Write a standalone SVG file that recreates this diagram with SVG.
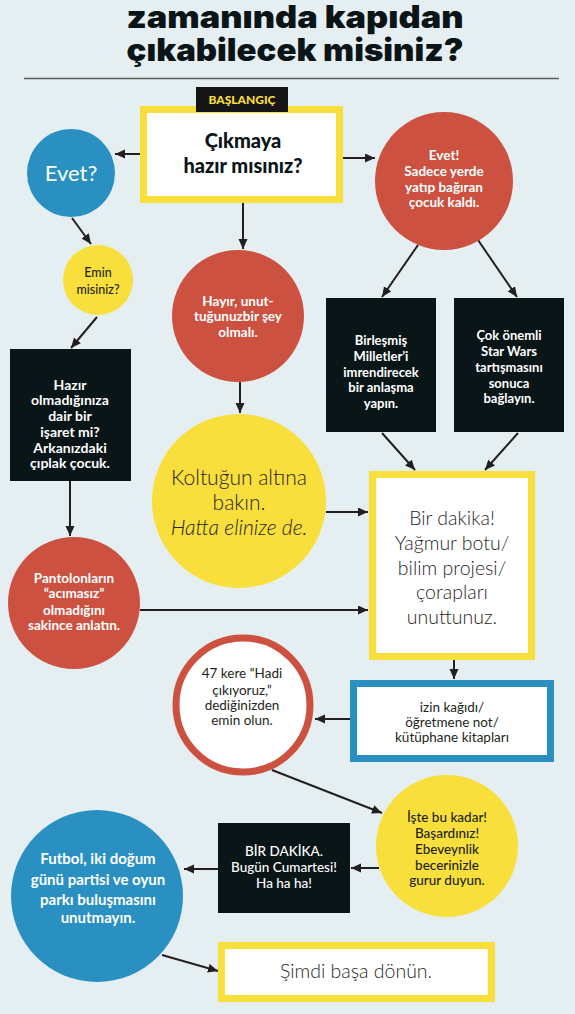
<svg xmlns="http://www.w3.org/2000/svg" width="575" height="1014" viewBox="0 0 575 1014">
<defs>
<marker id="ah" markerUnits="userSpaceOnUse" markerWidth="11" markerHeight="10" refX="10" refY="4.5" orient="auto"><path d="M0,0 L10,4.5 L0,9 z" fill="#231f20"/></marker>
<style>
.t{font-family:Lato,"Open Sans","DejaVu Sans",sans-serif;text-anchor:middle}
.title{font-family:Inter,Lato,"Open Sans",sans-serif;font-weight:900;font-size:31px;fill:#0b1417;text-anchor:middle}
.w{fill:#ffffff;font-weight:700}
.d{fill:#231f20}
.lt{fill:#2a2627;font-weight:300}
.red{fill:#cc5140}
.blue{fill:#2a90c1}
.yel{fill:#f8df3b}
.blk{fill:#0a1518}
.ybox{fill:#ffffff;stroke:#f8df3b;stroke-width:7}
.bbox{fill:#ffffff;stroke:#2a90c1;stroke-width:7}
#connectors line{stroke:#231f20;stroke-width:2;marker-end:url(#ah)}
</style>
</defs>
<rect width="575" height="1014" fill="#e5eff1"/>
<g id="title">
<text class="title" x="295" y="28" textLength="337" lengthAdjust="spacingAndGlyphs">zamanında kapıdan</text>
<text class="title" x="295" y="61" textLength="337" lengthAdjust="spacingAndGlyphs">çıkabilecek misiniz?</text>
<line x1="24" y1="78.5" x2="559" y2="78.5" stroke="#5a5d5e" stroke-width="1.5"/>
</g>
<g id="connectors">
<line x1="140" y1="154" x2="115" y2="154"/>
<line x1="343" y1="158" x2="375" y2="158"/>
<line x1="243" y1="203" x2="243" y2="249"/>
<line x1="72" y1="218" x2="91" y2="244"/>
<line x1="97" y1="317" x2="71" y2="348"/>
<line x1="418" y1="245" x2="382" y2="297"/>
<line x1="478" y1="240" x2="517" y2="297"/>
<line x1="240" y1="382" x2="240" y2="413"/>
<line x1="70" y1="481" x2="70" y2="536"/>
<line x1="382" y1="433" x2="415" y2="470"/>
<line x1="518" y1="433" x2="485" y2="470"/>
<line x1="326" y1="512" x2="368" y2="512"/>
<line x1="140" y1="610" x2="368" y2="610"/>
<line x1="454" y1="660" x2="454" y2="679"/>
<line x1="350" y1="719" x2="315" y2="719"/>
<line x1="272" y1="770" x2="382" y2="813"/>
<line x1="379" y1="868" x2="351" y2="868"/>
<line x1="218" y1="869" x2="184" y2="869"/>
<line x1="162" y1="955" x2="218" y2="971"/>
</g>
<g id="start">
<rect class="ybox" x="143.5" y="109.5" width="196" height="90"/>
<text class="t" x="243" y="148" font-size="20" font-weight="900" fill="#0b1417">Çıkmaya</text>
<text class="t" x="243" y="173" font-size="20" font-weight="900" fill="#0b1417">hazır mısınız?</text>
</g>
<g id="start-label">
<rect x="196" y="87" width="92" height="25" fill="#151515"/>
<text class="t" x="242" y="104" font-size="12" font-weight="900" fill="#f8df3b">BAŞLANGIÇ</text>
</g>
<g id="evet">
<circle class="blue" cx="71" cy="173" r="44"/>
<text class="t" x="71" y="181" font-size="22" fill="#ffffff">Evet?</text>
</g>
<g id="emin">
<circle class="yel" cx="98" cy="280" r="35"/>
<text class="t d" x="98" y="277" font-size="12.5" font-weight="500">Emin</text>
<text class="t d" x="98" y="294" font-size="12.5" font-weight="500">misiniz?</text>
</g>
<g id="evet-sadece">
<circle class="red" cx="444" cy="181" r="69"/>
<text class="t w" x="444" y="160" font-size="13.5">Evet!</text>
<text class="t w" x="444" y="176" font-size="13.5">Sadece yerde</text>
<text class="t w" x="444" y="192" font-size="13.5">yatıp bağıran</text>
<text class="t w" x="444" y="207" font-size="13.5">çocuk kaldı.</text>
</g>
<g id="hayir">
<circle class="red" cx="238" cy="316" r="66"/>
<text class="t w" x="238" y="306" font-size="13.5">Hayır, unut-</text>
<text class="t w" x="238" y="321" font-size="13.5">tuğunuzbir şey</text>
<text class="t w" x="238" y="337" font-size="13.5">olmalı.</text>
</g>
<g id="birlesmis">
<rect class="blk" x="326" y="298" width="110" height="134"/>
<text class="t w" x="381" y="345" font-size="13">Birleşmiş</text>
<text class="t w" x="381" y="361" font-size="13">Milletler’i</text>
<text class="t w" x="381" y="377" font-size="13">imrendirecek</text>
<text class="t w" x="381" y="392" font-size="13">bir anlaşma</text>
<text class="t w" x="381" y="408" font-size="13">yapın.</text>
</g>
<g id="starwars">
<rect class="blk" x="454" y="298" width="110" height="134"/>
<text class="t w" x="509" y="340" font-size="13">Çok önemli</text>
<text class="t w" x="509" y="356" font-size="13">Star Wars</text>
<text class="t w" x="509" y="372" font-size="13">tartışmasını</text>
<text class="t w" x="509" y="388" font-size="13">sonuca</text>
<text class="t w" x="509" y="403" font-size="13">bağlayın.</text>
</g>
<g id="hazir">
<rect class="blk" x="10" y="349" width="121" height="132"/>
<text class="t w" x="70" y="390" font-size="14">Hazır</text>
<text class="t w" x="70" y="405" font-size="14">olmadığınıza</text>
<text class="t w" x="70" y="421" font-size="14">dair bir</text>
<text class="t w" x="70" y="437" font-size="14">işaret mi?</text>
<text class="t w" x="70" y="453" font-size="14">Arkanızdaki</text>
<text class="t w" x="70" y="468" font-size="14">çıplak çocuk.</text>
</g>
<g id="koltugun">
<circle class="yel" cx="239" cy="501" r="87"/>
<text class="t lt" x="239" y="485" font-size="21">Koltuğun altına</text>
<text class="t lt" x="239" y="510" font-size="21">bakın.</text>
<text class="t lt" x="239" y="535" font-size="21" font-style="italic">Hatta elinize de.</text>
</g>
<g id="pantolon">
<circle class="red" cx="74" cy="603" r="66"/>
<text class="t w" x="74" y="583" font-size="13.5">Pantolonların</text>
<text class="t w" x="74" y="598" font-size="13.5">“acımasız”</text>
<text class="t w" x="74" y="615" font-size="13.5">olmadığını</text>
<text class="t w" x="74" y="630" font-size="13.5">sakince anlatın.</text>
</g>
<g id="bir-dakika">
<rect class="ybox" x="372.5" y="474.5" width="159" height="182"/>
<text class="t lt" x="452" y="525" font-size="19.5">Bir dakika!</text>
<text class="t lt" x="452" y="550" font-size="19.5">Yağmur botu/</text>
<text class="t lt" x="452" y="575" font-size="19.5">bilim projesi/</text>
<text class="t lt" x="452" y="599" font-size="19.5">çorapları</text>
<text class="t lt" x="452" y="624" font-size="19.5">unuttunuz.</text>
</g>
<g id="izin">
<rect class="bbox" x="353.5" y="683.5" width="197" height="75"/>
<text class="t d" x="452" y="712" font-size="13.5">izin kağıdı/</text>
<text class="t d" x="452" y="727" font-size="13.5">öğretmene not/</text>
<text class="t d" x="452" y="742" font-size="13.5">kütüphane kitapları</text>
</g>
<g id="kere47">
<circle cx="243" cy="705" r="67" fill="#ffffff" stroke="#cc5140" stroke-width="7"/>
<text class="t d" x="242" y="678" font-size="13.5">47 kere “Hadi</text>
<text class="t d" x="242" y="695" font-size="13.5">çıkıyoruz,”</text>
<text class="t d" x="242" y="710" font-size="13.5">dediğinizden</text>
<text class="t d" x="242" y="725" font-size="13.5">emin olun.</text>
</g>
<g id="iste">
<circle class="yel" cx="447" cy="846" r="71"/>
<text class="t d" x="447" y="822" font-size="13.5" font-weight="500">İşte bu kadar!</text>
<text class="t d" x="447" y="838" font-size="13.5" font-weight="500">Başardınız!</text>
<text class="t d" x="447" y="854" font-size="13.5" font-weight="500">Ebeveynlik</text>
<text class="t d" x="447" y="870" font-size="13.5" font-weight="500">becerinizle</text>
<text class="t d" x="447" y="885" font-size="13.5" font-weight="500">gurur duyun.</text>
</g>
<g id="cumartesi">
<rect class="blk" x="218" y="823" width="132" height="90"/>
<text class="t" x="284" y="856" font-size="13.5" font-weight="500" fill="#ffffff">BİR DAKİKA.</text>
<text class="t" x="284" y="872" font-size="13.5" font-weight="500" fill="#ffffff">Bugün Cumartesi!</text>
<text class="t" x="284" y="888" font-size="13.5" font-weight="500" fill="#ffffff">Ha ha ha!</text>
</g>
<g id="futbol">
<circle class="blue" cx="97" cy="896" r="86"/>
<text class="t w" x="98" y="864" font-size="15">Futbol, iki doğum</text>
<text class="t w" x="98" y="885" font-size="15">günü partisi ve oyun</text>
<text class="t w" x="98" y="905" font-size="15">parkı buluşmasını</text>
<text class="t w" x="98" y="923" font-size="15">unutmayın.</text>
</g>
<g id="simdi">
<rect class="ybox" x="221.5" y="945.5" width="270" height="53"/>
<text class="t lt" x="356" y="978" font-size="19.5">Şimdi başa dönün.</text>
</g>
</svg>
